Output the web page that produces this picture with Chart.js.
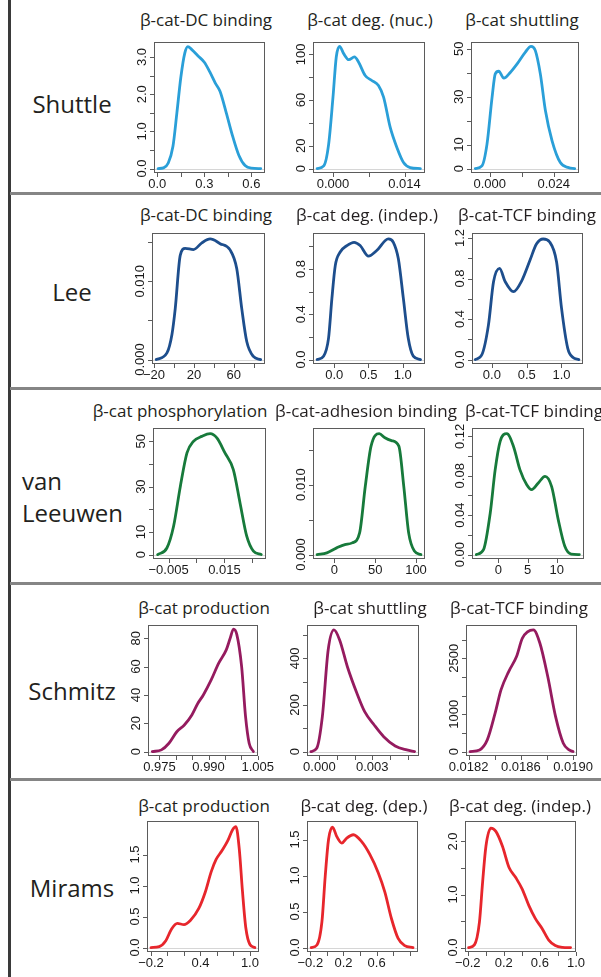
<!DOCTYPE html>
<html>
<head>
<meta charset="utf-8">
<script src="https://cdn.jsdelivr.net/npm/chart.js@4.4.1/dist/chart.umd.min.js"></script>
<style>
  body { margin: 0; background: #fff; }
  #fig { position: relative; width: 601px; height: 977px; overflow: hidden; background: #fff; }
  .vline { position: absolute; left: 8px; top: 0; width: 3px; height: 977px; background: #3a3a3a; }
  .sep { position: absolute; left: 10px; width: 591px; height: 3px; background: #858585; }
  .title { position: absolute; font: 17px "Open Sans", sans-serif; color: #231f20; white-space: nowrap;
           transform: translate(-50%, -50%); }
  .row { position: absolute; font: 24px "Open Sans", sans-serif; color: #231f20; white-space: nowrap;
         transform: translate(-50%, -50%); }
  .rowl { position: absolute; font: 24px "Open Sans", sans-serif; color: #231f20; line-height: 32px; }
  canvas { position: absolute; }
</style>
</head>
<body>
<div id="fig">
  <div class="vline"></div>
</div>
<script>
// ---- data (density curves) ----

// Shuttle
const shuttleDcX = [0.005, 0.04, 0.07, 0.1, 0.125, 0.15, 0.175, 0.195, 0.22, 0.26, 0.3, 0.335, 0.37, 0.4, 0.44, 0.48, 0.52, 0.56, 0.6, 0.66];
const shuttleDcY = [0, 0.02, 0.15, 0.6, 1.5, 2.45, 3.1, 3.28, 3.2, 3.03, 2.86, 2.6, 2.3, 2.08, 1.5, 0.88, 0.36, 0.08, 0.01, 0];
const shuttleNucX = [-0.0031, -0.0018, -0.00085, 0, 0.00065, 0.0013, 0.0021, 0.0031, 0.0042, 0.005, 0.0063, 0.0076, 0.0089, 0.0099, 0.0112, 0.0125, 0.0138, 0.0151, 0.0171];
const shuttleNucY = [0, 2.3, 21, 62, 97.7, 107, 100.6, 95.3, 97.7, 93.3, 81.5, 77.1, 72.7, 62.5, 36, 18.5, 5.3, 0.9, 0];
const shuttleShX = [-0.0054, -0.0029, -0.001, 0.0009, 0.0021, 0.0034, 0.0053, 0.0078, 0.0103, 0.0134, 0.0155, 0.0171, 0.019, 0.0209, 0.0234, 0.0265, 0.0296, 0.0319];
const shuttleShY = [0, 1.1, 10.2, 29.7, 39.5, 40.6, 37.7, 40.2, 43.7, 48.6, 51, 49.3, 39.5, 24.2, 11.6, 2.5, 0.4, 0];

// Lee
const leeDcX = [-17.8, -7, -2, 1.3, 6.3, 11.3, 19.6, 28, 36.3, 46.3, 56.3, 63, 68, 73, 79.6, 87];
const leeDcY = [0, 0.00085, 0.0032, 0.0065, 0.0133, 0.0142, 0.01405, 0.0149, 0.0154, 0.0148, 0.014, 0.0116, 0.0065, 0.0023, 0.0004, 0];
const leeDegX = [-0.25, -0.156, -0.083, -0.034, 0.015, 0.087, 0.185, 0.29, 0.378, 0.5, 0.62, 0.79, 0.863, 0.936, 1.009, 1.08, 1.154, 1.26];
const leeDegY = [0, 0.03, 0.19, 0.54, 0.83, 0.95, 1.007, 1.036, 1.007, 0.913, 0.963, 1.066, 1.036, 0.89, 0.54, 0.19, 0.03, 0];
const leeTcfX = [-0.24, -0.143, -0.05, 0.024, 0.11, 0.19, 0.31, 0.43, 0.547, 0.64, 0.737, 0.83, 0.93, 1.0, 1.09, 1.166, 1.25];
const leeTcfY = [0, 0.05, 0.34, 0.77, 0.9, 0.77, 0.67, 0.78, 0.98, 1.14, 1.19, 1.16, 0.96, 0.51, 0.11, 0.02, 0];

// van Leeuwen
const vlPhosX = [-0.0089, -0.0056, -0.0032, -0.0008, 0.0016, 0.0039, 0.0069, 0.0099, 0.0123, 0.0152, 0.0182, 0.0206, 0.023, 0.0254, 0.0282];
const vlPhosY = [0, 2.9, 12.5, 30, 44.9, 50, 52.2, 53.4, 51.5, 44.9, 37.5, 22.8, 8.1, 1.5, 0];
const vlAdhX = [-21, -9, 3, 13, 22, 31, 38, 45, 55, 62, 70, 79, 85, 91, 98, 106];
const vlAdhY = [0, 0.00024, 0.00096, 0.00143, 0.00167, 0.0031, 0.0098, 0.0155, 0.0173, 0.0167, 0.0163, 0.0155, 0.0098, 0.0031, 0.0005, 0];
const vlTcfX = [-3.8, -2.57, -1.42, -0.57, 0.29, 1.44, 2.57, 3.7, 4.86, 5.7, 6.85, 8.0, 9.14, 10.27, 11.4, 12.5, 13.9];
const vlTcfY = [0, 0.005, 0.042, 0.086, 0.115, 0.1227, 0.11, 0.086, 0.071, 0.066, 0.0727, 0.0794, 0.069, 0.0355, 0.0084, 0.0005, 0];

// Schmitz
const smProdX = [0.9728, 0.9756, 0.9779, 0.9803, 0.9826, 0.9849, 0.9867, 0.9884, 0.9908, 0.9931, 0.9954, 0.9966, 0.9976, 0.9986, 1.0001, 1.0013, 1.0024, 1.0037];
const smProdY = [0, 1.2, 5.9, 14, 18.8, 25.9, 34, 40, 50.6, 62.4, 71.8, 80, 86.5, 83, 60, 24.7, 5.9, 0];
const smShutX = [-0.00048, -0.00015, 0.00017, 0.0005, 0.00083, 0.00115, 0.00159, 0.00213, 0.00257, 0.00311, 0.00365, 0.0043, 0.00496, 0.0054];
const smShutY = [0, 14, 150, 436, 522, 479, 364, 250, 171, 114, 64, 24, 7, 0];
const smTcfX = [0.018211, 0.018284, 0.018343, 0.018403, 0.018448, 0.018507, 0.018567, 0.018612, 0.018696, 0.018746, 0.018806, 0.018866, 0.018925, 0.01897, 0.019];
const smTcfY = [0, 45, 312, 1027, 1652, 2143, 2545, 3036, 3260, 2902, 2009, 937, 223, 45, 0];

// Mirams
const mrProdX = [-0.2, -0.1, -0.02, 0.05, 0.12, 0.2, 0.28, 0.38, 0.46, 0.53, 0.59, 0.66, 0.73, 0.79, 0.83, 0.87, 0.91, 0.95, 1.0, 1.06];
const mrProdY = [0, 0.015, 0.11, 0.3, 0.39, 0.37, 0.44, 0.63, 0.9, 1.22, 1.42, 1.56, 1.72, 1.9, 1.95, 1.6, 0.9, 0.32, 0.05, 0];
const mrDepX = [-0.19, -0.12, -0.06, -0.02, 0.02, 0.068, 0.12, 0.18, 0.24, 0.32, 0.42, 0.52, 0.62, 0.7, 0.78, 0.86, 0.94, 1.04];
const mrDepY = [0, 0.036, 0.356, 0.99, 1.5, 1.67, 1.54, 1.45, 1.52, 1.566, 1.47, 1.29, 1.04, 0.77, 0.4, 0.127, 0.027, 0];
const mrIndX = [-0.19, -0.126, -0.07, -0.035, 0.002, 0.057, 0.112, 0.185, 0.258, 0.332, 0.404, 0.478, 0.55, 0.624, 0.698, 0.77, 0.85, 0.94];
const mrIndY = [0, 0.05, 0.48, 1.23, 1.91, 2.25, 2.19, 1.91, 1.51, 1.32, 1.1, 0.79, 0.545, 0.36, 0.14, 0.037, 0.005, 0];

// ---- tick positions and labels ('' = tick without label) ----
const ticks = {
  shuttleDc:  { xt: [0, 0.15, 0.3, 0.45, 0.6], xl: ['0.0', '', '0.3', '', '0.6'],
                yt: [0, 0.5, 1, 1.5, 2, 2.5, 3], yl: ['0.0', '', '1.0', '', '2.0', '', '3.0'] },
  shuttleNuc: { xt: [0, 0.007, 0.014], xl: ['0.000', '', '0.014'],
                yt: [0, 20, 40, 60, 80, 100], yl: ['0', '20', '', '60', '', '100'] },
  shuttleSh:  { xt: [0, 0.012, 0.024], xl: ['0.000', '', '0.024'],
                yt: [0, 10, 20, 30, 40, 50], yl: ['0', '10', '', '30', '', '50'] },
  leeDc:  { xt: [-20, 0, 20, 40, 60, 80], xl: ['\u221220', '', '20', '', '60', ''],
            yt: [0, 0.005, 0.01, 0.015], yl: ['0.000', '', '0.010', ''] },
  leeDeg: { xt: [0, 0.5, 1], xl: ['0.0', '0.5', '1.0'],
            yt: [0, 0.2, 0.4, 0.6, 0.8, 1.0], yl: ['0.0', '', '0.4', '', '0.8', ''] },
  leeTcf: { xt: [0, 0.5, 1], xl: ['0.0', '0.5', '1.0'],
            yt: [0, 0.2, 0.4, 0.6, 0.8, 1.0, 1.2], yl: ['0.0', '', '0.4', '', '0.8', '', '1.2'] },
  vlPhos: { xt: [-0.005, 0.005, 0.015, 0.025], xl: ['\u22120.005', '', '0.015', ''],
            yt: [0, 10, 20, 30, 40, 50], yl: ['0', '10', '', '30', '', '50'] },
  vlAdh:  { xt: [0, 50, 100], xl: ['0', '50', '100'],
            yt: [0, 0.005, 0.01, 0.015], yl: ['0.000', '', '0.010', ''] },
  vlTcf:  { xt: [0, 5, 10], xl: ['0', '5', '10'],
            yt: [0, 0.02, 0.04, 0.06, 0.08, 0.1, 0.12], yl: ['0.00', '', '0.04', '', '0.08', '', '0.12'] },
  smProd: { xt: [0.975, 0.98, 0.985, 0.99, 0.995, 1.0, 1.005], xl: ['0.975', '', '', '0.990', '', '', '1.005'],
            yt: [0, 20, 40, 60, 80], yl: ['0', '20', '40', '60', '80'] },
  smShut: { xt: [0, 0.001, 0.002, 0.003, 0.004, 0.005], xl: ['0.000', '', '', '0.003', '', ''],
            yt: [0, 100, 200, 300, 400, 500], yl: ['0', '', '200', '', '400', ''] },
  smTcf:  { xt: [0.0182, 0.0184, 0.0186, 0.0188, 0.019], xl: ['0.0182', '', '0.0186', '', '0.0190'],
            yt: [0, 500, 1000, 1500, 2000, 2500, 3000], yl: ['0', '', '1000', '', '', '2500', ''] },
  mrProd: { xt: [-0.2, 0, 0.2, 0.4, 0.6, 0.8, 1.0], xl: ['\u22120.2', '', '', '0.4', '', '', '1.0'],
            yt: [0, 0.5, 1, 1.5], yl: ['0.0', '0.5', '1.0', '1.5'] },
  mrDep:  { xt: [-0.2, 0, 0.2, 0.4, 0.6, 0.8, 1.0], xl: ['\u22120.2', '', '0.2', '', '0.6', '', ''],
            yt: [0, 0.5, 1, 1.5], yl: ['0.0', '0.5', '1.0', '1.5'] },
  mrInd:  { xt: [-0.2, 0, 0.2, 0.4, 0.6, 0.8, 1.0], xl: ['\u22120.2', '', '0.2', '', '0.6', '', '1.0'],
            yt: [0, 0.5, 1, 1.5, 2], yl: ['0.0', '', '1.0', '', '2.0'] }
};

const rowNames = ['Shuttle', 'Lee', 'van Leeuwen', 'Schmitz', 'Mirams'];
const rowColors = ['#2a9fd8', '#1d4e8d', '#177a3b', '#951b5f', '#e7262c'];

// panel list: title, data, axis ranges
const panels = [
  [{ t: 'β-cat-DC binding', x: shuttleDcX, y: shuttleDcY, k: 'shuttleDc', xr: [-0.021, 0.687], ym: 3.405 },
   { t: 'β-cat deg. (nuc.)', x: shuttleNucX, y: shuttleNucY, k: 'shuttleNuc', xr: [-0.0039, 0.018], ym: 110.8 },
   { t: 'β-cat shuttling', x: shuttleShX, y: shuttleShY, k: 'shuttleSh', xr: [-0.007, 0.0335], ym: 52.8 }],
  [{ t: 'β-cat-DC binding', x: leeDcX, y: leeDcY, k: 'leeDc', xr: [-22, 91.3], ym: 0.01616 },
   { t: 'β-cat deg. (indep.)', x: leeDegX, y: leeDegY, k: 'leeDeg', xr: [-0.31, 1.325], ym: 1.118 },
   { t: 'β-cat-TCF binding', x: leeTcfX, y: leeTcfY, k: 'leeTcf', xr: [-0.286, 1.309], ym: 1.249 }],
  [{ t: 'β-cat phosphorylation', x: vlPhosX, y: vlPhosY, k: 'vlPhos', xr: [-0.01057, 0.0299], ym: 55.9 },
   { t: 'β-cat-adhesion binding', x: vlAdhX, y: vlAdhY, k: 'vlAdh', xr: [-26, 111], ym: 0.0181 },
   { t: 'β-cat-TCF binding', x: vlTcfX, y: vlTcfY, k: 'vlTcf', xr: [-4.55, 14.7], ym: 0.1285 }],
  [{ t: 'β-cat production', x: smProdX, y: smProdY, k: 'smProd', xr: [0.9715, 1.0051], ym: 89.4 },
   { t: 'β-cat shuttling', x: smShutX, y: smShutY, k: 'smShut', xr: [-0.0007, 0.00565], ym: 543 },
   { t: 'β-cat-TCF binding', x: smTcfX, y: smTcfY, k: 'smTcf', xr: [0.01818, 0.01903], ym: 3390 }],
  [{ t: 'β-cat production', x: mrProdX, y: mrProdY, k: 'mrProd', xr: [-0.248, 1.11], ym: 2.04 },
   { t: 'β-cat deg. (dep.)', x: mrDepX, y: mrDepY, k: 'mrDep', xr: [-0.24, 1.1], ym: 1.757 },
   { t: 'β-cat deg. (indep.)', x: mrIndX, y: mrIndY, k: 'mrInd', xr: [-0.23, 1.0], ym: 2.385 }]
];

// layout of the plot boxes (pixels)
const boxTop = [42, 233, 428, 625, 821];
const boxH = 131;
const boxLeft = [[154, 313, 471], [152, 313, 472], [153, 313, 472], [148, 307, 466], [147, 307, 465]];
const boxW = [[111, 112, 108], [113, 112, 111], [113, 112, 112], [110, 112, 111], [112, 111, 111]];
const titleY = [19, 214, 410, 607, 805];
const titleX = [[206, 370, 522], [206, 367, 527], [180, 366, 534], [204, 370, 519], [204, 364, 520]];
const sepY = [192, 387, 582, 778];
const PL = 32, PR = 22, PT = 6, PB = 28;

// R-like box, ticks and rotated y labels drawn from the chart's scales
const rAxes = {
  id: 'rAxes',
  beforeDatasetsDraw(chart) {
    const { ctx, chartArea: a, scales: { y } } = chart;
    const y0 = Math.round(y.getPixelForValue(0)) + 0.5;
    ctx.save();
    ctx.strokeStyle = '#d6d6d6';
    ctx.lineWidth = 1;
    ctx.beginPath();
    ctx.moveTo(a.left, y0);
    ctx.lineTo(a.right, y0);
    ctx.stroke();
    ctx.restore();
  },
  afterDraw(chart) {
    const tk = chart.options.plugins.rAxes;
    const { ctx, chartArea: a, scales: { x, y } } = chart;
    ctx.save();
    ctx.strokeStyle = '#5b5b5b';
    ctx.lineWidth = 1;
    ctx.strokeRect(a.left + 0.5, a.top + 0.5, a.width - 1, a.height - 1);
    ctx.beginPath();
    tk.xt.forEach(v => {
      const px = Math.round(x.getPixelForValue(v)) + 0.5;
      ctx.moveTo(px, a.bottom);
      ctx.lineTo(px, a.bottom + 4);
    });
    tk.yt.forEach(v => {
      const py = Math.round(y.getPixelForValue(v)) + 0.5;
      ctx.moveTo(a.left, py);
      ctx.lineTo(a.left - 4, py);
    });
    ctx.stroke();

    ctx.fillStyle = '#1a1a1a';
    ctx.font = '13px "Liberation Sans", Arial, sans-serif';
    ctx.textAlign = 'center';
    ctx.textBaseline = 'top';
    tk.xt.forEach((v, i) => {
      if (tk.xl[i]) ctx.fillText(tk.xl[i], x.getPixelForValue(v), a.bottom + 5);
    });
    ctx.textBaseline = 'alphabetic';
    tk.yt.forEach((v, i) => {
      if (!tk.yl[i]) return;
      ctx.save();
      ctx.translate(a.left - 8, y.getPixelForValue(v));
      ctx.rotate(-Math.PI / 2);
      ctx.fillText(tk.yl[i], 0, 0);
      ctx.restore();
    });
    ctx.restore();
  }
};

const fig = document.getElementById('fig');

sepY.forEach(t => {
  const d = document.createElement('div');
  d.className = 'sep';
  d.style.top = t + 'px';
  fig.appendChild(d);
});

// row labels
const rowLabelY = [103, 291, 0, 690, 887];
rowNames.forEach((name, r) => {
  const d = document.createElement('div');
  if (r === 2) {
    d.className = 'rowl';
    d.style.left = '22px';
    d.style.top = '465px';
    d.innerHTML = 'van<br>Leeuwen';
  } else {
    d.className = 'row';
    d.style.left = '72px';
    d.style.top = rowLabelY[r] + 'px';
    d.textContent = name;
  }
  fig.appendChild(d);
});

panels.forEach((row, r) => {
  row.forEach((p, c) => {
    const tl = document.createElement('div');
    tl.className = 'title';
    tl.style.left = titleX[r][c] + 'px';
    tl.style.top = titleY[r] + 'px';
    tl.textContent = p.t;
    fig.appendChild(tl);

    const cv = document.createElement('canvas');
    cv.width = boxW[r][c] + PL + PR;
    cv.height = boxH + PT + PB;
    cv.style.left = (boxLeft[r][c] - PL) + 'px';
    cv.style.top = (boxTop[r] - PT) + 'px';
    fig.appendChild(cv);

    new Chart(cv, {
      type: 'line',
      data: {
        datasets: [{
          data: p.x.map((v, i) => ({ x: v, y: p.y[i] })),
          borderColor: rowColors[r],
          borderWidth: 2.8,
          pointRadius: 0,
          fill: false,
          cubicInterpolationMode: 'monotone',
          borderCapStyle: 'round',
          borderJoinStyle: 'round'
        }]
      },
      options: {
        responsive: false,
        animation: false,
        devicePixelRatio: 1,
        layout: { padding: { left: PL, right: PR, top: PT, bottom: PB } },
        scales: {
          x: { type: 'linear', display: false, min: p.xr[0], max: p.xr[1] },
          y: { type: 'linear', display: false, min: -0.035 * p.ym, max: p.ym }
        },
        plugins: {
          legend: { display: false },
          tooltip: { enabled: false },
          rAxes: ticks[p.k]
        }
      },
      plugins: [rAxes]
    });
  });
});
</script>
</body>
</html>
